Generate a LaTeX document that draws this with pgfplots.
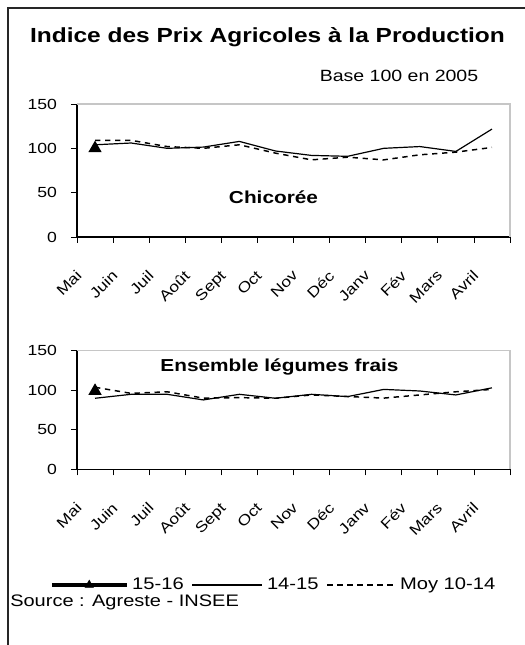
\documentclass[border=0pt]{standalone}
\usepackage{fontspec}
\setmainfont{Liberation Sans}[FakeStretch=1.2]
\usepackage{pgfplots}
\usepackage{pgfplotstable}
\pgfplotsset{compat=1.18}

% m = month (1 = Mai ... 12 = Avril); a = 15-16, b = 14-15, c = Moy 10-14
\pgfplotstableread{
m a   b     c
1 100 104   109
2 nan 106   109
3 nan 100   102
4 nan 101.4 100
5 nan 107.8 104
6 nan 97    94.6
7 nan 92    87
8 nan 91    90
9 nan 100   87
10 nan 102  92.7
11 nan 96.5 95.7
12 nan 121.7 101
}\chicoree

\pgfplotstableread{
m a   b    c
1 99  89.8 103.7
2 nan 94.8 96
3 nan 94.8 98
4 nan 87.7 90
5 nan 94.8 90.6
6 nan 89.8 89.8
7 nan 94.8 94
8 nan 91.9 92
9 nan 101  90
10 nan 99  94
11 nan 94  98
12 nan 103 101
}\legumes

\pgfplotsset{
  monthaxis/.style={
    scale only axis, width=324.75bp,
    xmin=0.5, xmax=12.5, ymin=0, ymax=150,
    axis lines*=left, axis line style={-, black, line width=0.8bp},
    tick align=outside, major tick length=4.5bp,
    tick style={black, line width=0.6bp},
    xtick={0.5,1.5,...,12.5}, xticklabels={},
    ytick={0,50,100,150},
    yticklabel style={xshift=-7bp},
    extra x ticks={1,...,12},
    extra x tick labels={Mai,Juin,Juil,Août,Sept,Oct,Nov,Déc,Janv,Fév,Mars,Avril},
    extra x tick style={major tick length=0pt,
      xticklabel style={xshift=-15bp, yshift=-24bp, rotate=45, anchor=north east, inner sep=0pt}},
    ticklabel style={font=\fontsize{11bp}{13bp}\selectfont},
    /pgf/number format/assume math mode=true,
    clip=false,
  },
  s1516/.style={black, line width=2.2bp, mark=triangle*, mark size=3.6bp, mark options={solid}},
  s1415/.style={black, line width=0.9bp},
  smoy/.style={black, line width=1.1bp, dash pattern=on 4bp off 3.5bp},
  legA/.style={legend image code/.code={\draw[black, line width=2.5bp, mark=triangle*, mark size=3.6bp, mark options={solid, line width=0.4bp}, mark repeat=2, mark phase=2] plot coordinates {(0bp,0bp) (28bp,0bp) (56bp,0bp)};}},
  legB/.style={legend image code/.code={\draw[##1] (0bp,0bp) -- (52.5bp,0bp);}},
  legC/.style={legend image code/.code={\draw[##1] (0bp,0bp) -- (51bp,0bp);}},
}

\begin{document}
\begin{tikzpicture}[x=0.75bp,y=0.75bp]
\useasboundingbox (0,0) rectangle (525,645);
\draw[line width=2bp, black!85] (8,-5) -- (8,637) -- (530,637);

\node[anchor=base, font=\bfseries\fontsize{15.3bp}{18bp}\selectfont] at (267.5,602) {Indice des Prix Agricoles à la Production};
\node[anchor=base, font=\fontsize{12.2bp}{14bp}\selectfont] at (399,563) {Base 100 en 2005};

\begin{axis}[monthaxis, at={(57.75bp,306bp)}, anchor=south west, height=99.75bp]
\draw[gray!45, line width=0.8bp] (rel axis cs:0,1) -- (rel axis cs:1,1) -- (rel axis cs:1,0);
\addplot[s1415] table[x=m, y=b] {\chicoree};
\addplot[smoy] table[x=m, y=c] {\chicoree};
\addplot[s1516] table[x=m, y=a] {\chicoree};
\end{axis}
\node[anchor=base, font=\bfseries\fontsize{13bp}{15bp}\selectfont] at (273.5,441.7) {Chicorée};

\begin{axis}[monthaxis, at={(57.75bp,131.8bp)}, anchor=south west, height=88.95bp,
  legend columns=-1,
  legend style={draw=none, fill=none, inner sep=0pt, at={(-0.0624,-0.9756)}, anchor=west,
    font=\fontsize{12.6bp}{14bp}\selectfont,
    nodes={inner xsep=3bp},
    /tikz/every even column/.append style={column sep=3bp}},
  legend cell align=left]
\draw[gray!45, line width=0.8bp] (rel axis cs:0,1) -- (rel axis cs:1,1) -- (rel axis cs:1,0);
\addplot[s1415, forget plot] table[x=m, y=b] {\legumes};
\addplot[smoy, forget plot] table[x=m, y=c] {\legumes};
\addplot[s1516, forget plot] table[x=m, y=a] {\legumes};
\addlegendimage{s1516, legA}
\addlegendentry{15-16}
\addlegendimage{s1415, legB}
\addlegendentry{14-15}
\addlegendimage{smoy, legC}
\addlegendentry{Moy 10-14}
\end{axis}
\node[anchor=base, font=\bfseries\fontsize{13bp}{15bp}\selectfont] at (279.5,273.3) {Ensemble légumes frais};

\node[anchor=base west, inner sep=0pt, font=\fontsize{12.5bp}{14bp}\selectfont] at (10,38.3) {Source : Agreste - INSEE};
\end{tikzpicture}
\end{document}
